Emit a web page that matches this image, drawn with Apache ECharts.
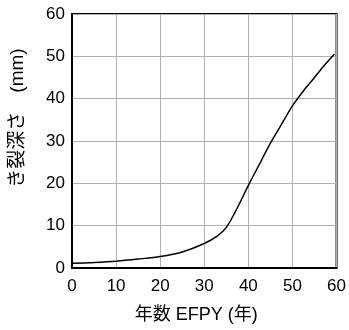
<!DOCTYPE html>
<html>
<head>
<meta charset="utf-8">
<script src="https://cdn.jsdelivr.net/npm/echarts@6/dist/echarts.min.js"></script>
<style>
html, body { margin: 0; padding: 0; background: #fff; }
#chart1 { width: 349px; height: 330px; }
</style>
</head>
<body>
<div id="chart1"></div>
<script>
// crack depth vs years
var years = [0, 5, 10, 15, 20, 25, 30, 33, 35, 37, 40, 43, 45, 48, 50, 53, 55, 57, 59.5];
var depth = [1.1, 1.3, 1.6, 2.1, 2.7, 3.8, 5.8, 7.6, 9.6, 13.2, 19.5, 25.5, 29.5, 34.8, 38.3, 42.5, 45, 47.6, 50.5];
var xTicks = [0, 10, 20, 30, 40, 50, 60];
var yTicks = [0, 10, 20, 30, 40, 50, 60];

var mychart = echarts.init(document.getElementById("chart1"));
var points = years.map(function (v, i) {
    return [v, depth[i]];
});
var font = "'Liberation Sans', Arial, 'Noto Sans CJK JP', sans-serif";

var option = {
    animation: false,
    grid: {
        left: 70,
        top: 14,
        right: 12,
        bottom: 62,
        show: true,
        borderColor: "#000",
        borderWidth: 2
    },
    xAxis: {
        type: 'value',
        min: xTicks[0],
        max: xTicks[xTicks.length - 1],
        interval: 10,
        name: '年数 EFPY (年)',
        nameLocation: 'middle',
        nameGap: 38,
        nameTextStyle: { color: "#000", fontSize: 18, fontFamily: font, padding: [0, 16, 0, 0] },
        axisLine: { show: true, lineStyle: { color: "#000", width: 2 } },
        axisTick: { show: false },
        axisLabel: { color: "#000", fontSize: 17, fontFamily: font, margin: 10 },
        splitLine: { show: true, lineStyle: { color: "#b0b0b0", width: 1 } }
    },
    yAxis: {
        type: 'value',
        min: yTicks[0],
        max: yTicks[yTicks.length - 1],
        interval: 10,
        name: 'き裂深さ　(mm)',
        nameLocation: 'middle',
        nameGap: 45,
        nameTextStyle: { color: "#000", fontSize: 19, fontFamily: font, padding: [0, 0, 0, 46] },
        axisLine: { show: true, lineStyle: { color: "#000", width: 2 } },
        axisTick: { show: false },
        axisLabel: { color: "#000", fontSize: 17, fontFamily: font, margin: 7 },
        splitLine: { show: true, lineStyle: { color: "#b0b0b0", width: 1 } }
    },
    series: [
        {
            type: 'line',
            data: points,
            smooth: 0.3,
            symbol: 'none',
            lineStyle: { color: "#000", width: 1.5 }
        }
    ]
};
mychart.setOption(option);
</script>
</body>
</html>
